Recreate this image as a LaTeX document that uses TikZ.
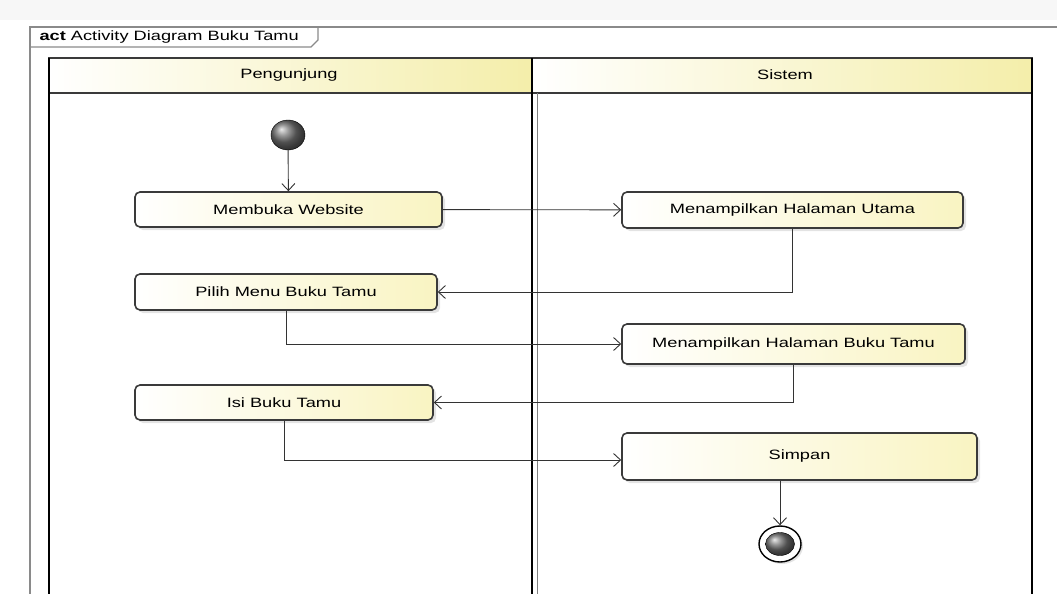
\documentclass[tikz,border=0pt]{standalone}
\usepackage{fontspec}
\setmainfont{Liberation Sans}[FakeStretch=1.35]
\usetikzlibrary{arrows.meta,calc,shapes.geometric,shadows}

\definecolor{laneyellow}{HTML}{F4EEAA}
\definecolor{boxyellow}{HTML}{F9F4C2}
\definecolor{boxline}{HTML}{3A3A3A}
\definecolor{frameline}{HTML}{8A8A8A}

\tikzset{
  act/.style={draw=boxline, line width=1.6pt, rounded corners=5pt,
    left color=white, right color=boxyellow, font=\fontsize{13.5}{16}\selectfont,
    drop shadow={opacity=0.22, shadow xshift=3pt, shadow yshift=-3pt}},
  lanehead/.style={draw=boxline, line width=1.2pt, left color=white, right color=laneyellow},
  flow/.style={-{Straight Barb[length=7pt,width=13pt]}, draw=black!80, line width=0.9pt},
}

\begin{document}
\begin{tikzpicture}[x=1pt,y=-1pt]
    \useasboundingbox (0,0) rectangle (1057,594);
    \fill[gray!6] (0,0) rectangle (1057,20);

    % frame and tab
    \draw[frameline, line width=1.2pt] (1057,27) -- (30,27) -- (30,594);
    \draw[frameline, line width=1.2pt] (30,47) -- (311,47) -- (318,40) -- (318,27);
    \node[anchor=west, font=\fontsize{13.5}{16}\selectfont] (tab) at (36,37)
        {\textbf{act} Activity Diagram Buku Tamu};

    % swimlanes
    \draw[lanehead] (49,58) rectangle (532,93);
    \draw[lanehead] (532,58) rectangle (1032,93);
    \draw[black, line width=2.6pt] (49,58) -- (49,594);
    \draw[black, line width=2.6pt] (532,58) -- (532,594);
    \draw[gray, line width=0.8pt] (537,93) -- (537,594);
    \draw[black, line width=2pt] (1032,58) -- (1032,594);
    \node[font=\fontsize{13.5}{16}\selectfont] (lane1) at (289,75) {Pengunjung};
    \node[font=\fontsize{13.5}{16}\selectfont] (lane2) at (785,75) {Sistem};

    % activities
    \node[ellipse, draw=black, ball color=black!55, minimum width=34pt, minimum height=30pt] (a) at (288,135) {};
    \node[act, minimum width=307pt, minimum height=35pt] (b) at (288.5,209.5) {Membuka Website};
    \node[act, minimum width=341pt, minimum height=36pt] (c) at (792.5,210) {Menampilkan Halaman Utama};
    \node[act, minimum width=302pt, minimum height=36pt] (d) at (286,292) {Pilih Menu Buku Tamu};
    \node[act, minimum width=343pt, minimum height=40pt] (e) at (793.5,344) {Menampilkan Halaman Buku Tamu};
    \node[act, minimum width=298pt, minimum height=35pt] (f) at (284,402.5) {Isi Buku Tamu};
    \node[act, minimum width=355pt, minimum height=47pt] (g) at (799.5,456.5) {Simpan};
    \node[ellipse, draw=black, line width=1.4pt, fill=white, minimum width=42pt, minimum height=36pt,
        drop shadow={opacity=0.22, shadow xshift=2pt, shadow yshift=-2pt}] (h) at (780,544) {};
    \node[ellipse, draw=black, ball color=black!55, minimum width=29pt, minimum height=23pt] (hin) at (h) {};

    \draw[flow] (a) -- (b);
    \draw[flow] (b) -- (c);
    \draw[flow] (c.south) |- (d);
    \draw[flow] (d.south) |- (e);
    \draw[flow] (e.south) |- (f);
    \draw[flow] (f.south) |- ([yshift=-3.5pt]g.west);
    \draw[flow] (g.south -| h.north) -- (h);
  \end{tikzpicture}
\end{document}
